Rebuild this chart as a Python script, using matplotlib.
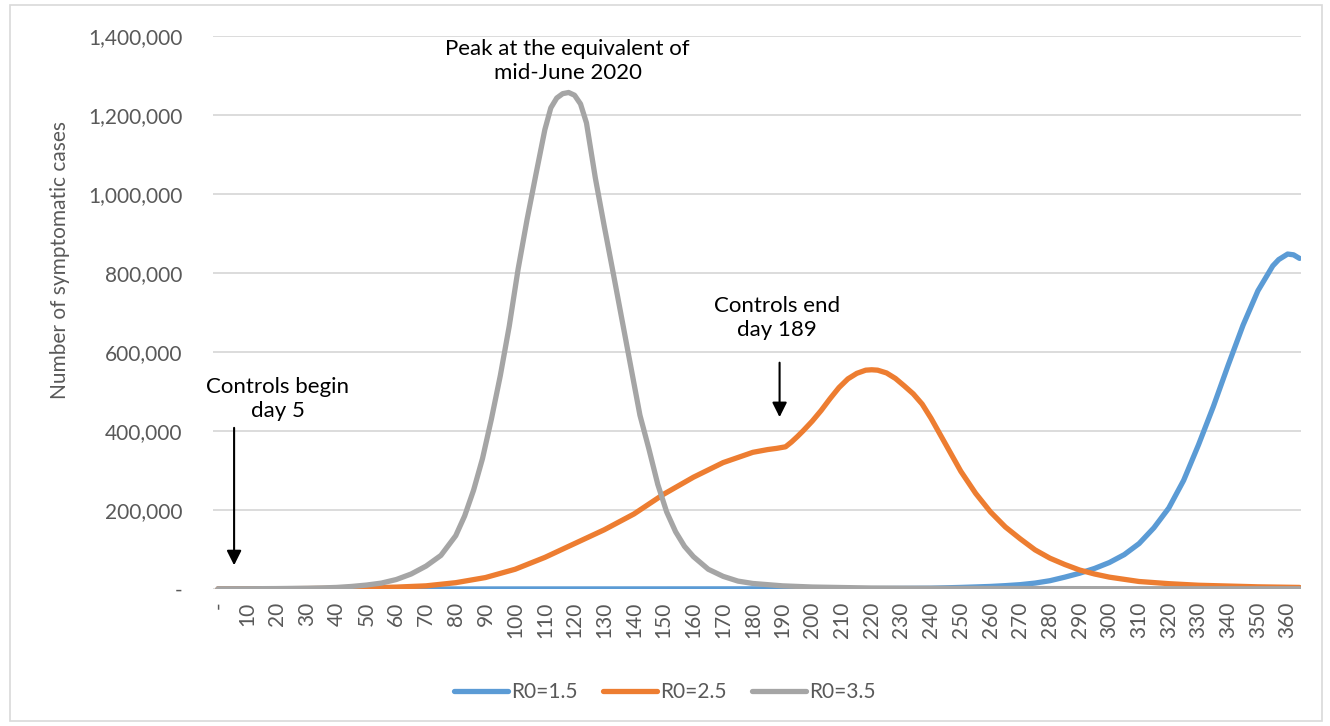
import matplotlib
matplotlib.use('Agg')
import matplotlib.pyplot as plt
from matplotlib.patches import Rectangle
from matplotlib.ticker import FuncFormatter

days_15 = [0, 20, 40, 60, 80, 100, 120, 140, 160, 180, 200, 220, 230, 240,
           250, 255, 260, 265, 270, 275, 280, 285, 290, 295, 300, 305, 310,
           315, 320, 325, 330, 335, 340, 345, 350, 355, 357, 360, 362, 364]
r0_15 = [50, 70, 90, 110, 130, 160, 200, 260, 330, 420, 620, 1000, 1400,
         2000, 4000, 5200, 6500, 8500, 11000, 15000, 21000, 30000, 40000,
         52000, 67000, 87000, 115000, 155000, 205000, 275000, 365000, 462000,
         567000, 668000, 755000, 818000, 834000, 848000, 846000, 837000]

days_25 = [0, 10, 20, 30, 40, 50, 60, 70, 80, 90, 100, 110, 120, 130, 140,
           150, 160, 170, 180, 185, 188, 191, 193, 195, 197, 200, 203, 206,
           209, 212, 215, 218, 220, 222, 225, 228, 231, 234, 237, 240, 245,
           250, 255, 260, 265, 270, 275, 280, 285, 290, 295, 300, 310, 320,
           330, 340, 350, 364]
r0_25 = [300, 500, 700, 1100, 1800, 3000, 4800, 8000, 16000, 29000, 50000,
         80000, 115000, 150000, 190000, 240000, 283000, 320000, 346000,
         353000, 356000, 360000, 372000, 386000, 401000, 425000, 452000,
         482000, 510000, 532000, 546000, 554000, 555000, 554000, 547000,
         533000, 514000, 494000, 468000, 432000, 365000, 298000, 242000,
         195000, 157000, 127000, 99000, 78000, 62000, 48000, 38000, 30000,
         19000, 13500, 9500, 7500, 5500, 4000]

days_35 = [0, 10, 20, 30, 35, 40, 45, 50, 55, 60, 65, 70, 75, 80, 83, 86, 89,
           92, 95, 98, 101, 104, 107, 110, 112, 114, 116, 118, 120, 122, 124,
           127, 130, 133, 136, 139, 142, 145, 148, 151, 154, 157, 160, 165,
           170, 175, 180, 190, 200, 220, 250, 300, 364]
r0_35 = [500, 700, 1100, 2000, 2800, 4000, 6500, 10000, 15000, 24000, 38000,
         58000, 85000, 135000, 185000, 250000, 330000, 430000, 540000, 665000,
         810000, 935000, 1050000, 1163000, 1218000, 1243000, 1254000, 1257000,
         1250000, 1228000, 1180000, 1040000, 918000, 800000, 680000, 560000,
         440000, 355000, 265000, 195000, 145000, 108000, 82000, 50000, 32000,
         20000, 14000, 8000, 5000, 2500, 1500, 800, 500]

series = [('R0=1.5', days_15, r0_15, '#5B9BD5'),
          ('R0=2.5', days_25, r0_25, '#ED7D31'),
          ('R0=3.5', days_35, r0_35, '#A5A5A5')]

x_ticks = list(range(0, 361, 10))
y_ticks = list(range(0, 1400001, 200000))

plt.rcParams['font.family'] = ['Lato', 'DejaVu Sans']

W, H = 1330, 726
fig = plt.figure(figsize=(W / 100, H / 100), dpi=100)
fig.patches.append(Rectangle((10 / W, 5 / H), 1312 / W, 716 / H,
                             transform=fig.transFigure, fill=False,
                             edgecolor='#D9D9D9', linewidth=1.2))

ax = fig.add_axes([213 / W, 1 - 589 / H, 1088 / W, 553 / H])

for name, d, vals, col in series:
    ax.plot(d, vals, color=col, linewidth=3.8, label=name,
            solid_capstyle='round', solid_joinstyle='round')

ax.set_xlim(-1.7, 364.5)
ax.set_ylim(0, 1400000)
ax.set_xticks(x_ticks)
ax.set_xticklabels(['-' if t == 0 else str(t) for t in x_ticks],
                   rotation=90, va='top', ha='center')
ax.set_yticks(y_ticks)
ax.yaxis.set_major_formatter(
    FuncFormatter(lambda v, p: '-' if v == 0 else '{:,.0f}'.format(v)))
ax.tick_params(axis='both', length=0, labelsize=15, labelcolor='#595959')
ax.tick_params(axis='y', pad=22)
ax.tick_params(axis='x', pad=9)
ax.grid(axis='y', color='#D9D9D9', linewidth=1.3)
ax.set_axisbelow(True)
for s in ax.spines.values():
    s.set_visible(False)

fig.text(60 / W, 1 - 260 / H, 'Number of symptomatic cases', rotation=90,
         ha='center', va='center', fontsize=15, color='#595959')

# annotations
ax.text(117.7, 1336000, 'Peak at the equivalent of\nmid-June 2020',
        ha='center', va='center', fontsize=16, linespacing=1.25)
ax.text(188, 686000, 'Controls end\nday 189', ha='center', va='center',
        fontsize=16, linespacing=1.25)
ax.text(20, 481000, 'Controls begin\nday 5', ha='center', va='center',
        fontsize=16, linespacing=1.25)
arrow = dict(arrowstyle='-|>', color='black', lw=1.5, mutation_scale=22)
ax.annotate('', xy=(189, 428000), xytext=(189, 580000), arrowprops=arrow)
ax.annotate('', xy=(5.4, 53000), xytext=(5.4, 415000), arrowprops=arrow)

fig.legend(loc='center', bbox_to_anchor=(665 / W, 1 - 692 / H), ncol=3,
           frameon=False, fontsize=15, handlelength=2.6, handletextpad=0.15,
           columnspacing=1.2, labelcolor='#595959')

fig.savefig('out.png', dpi=100)
